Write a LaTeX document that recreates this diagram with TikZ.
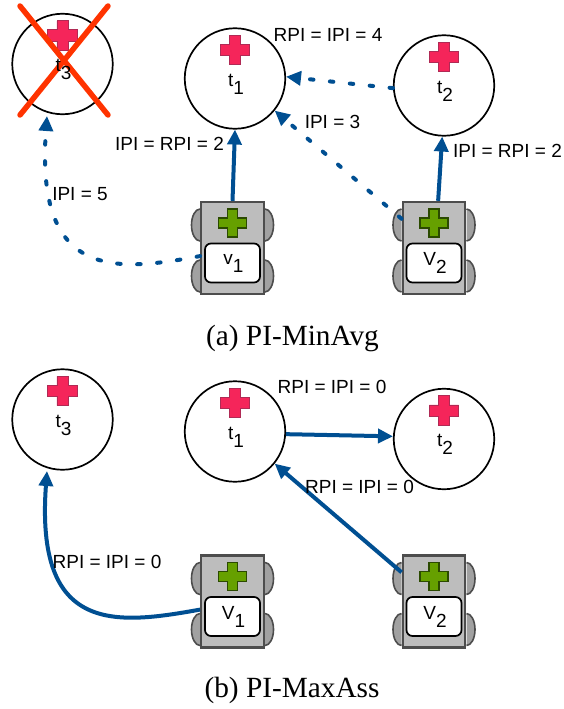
\documentclass[tikz,border=0pt]{standalone}
\usepackage{fontspec}
\setmainfont{Liberation Sans}
\newfontfamily\capfont{Liberation Serif}
\usetikzlibrary{arrows.meta}
\definecolor{linkblue}{HTML}{004F92}
\definecolor{plusred}{HTML}{F5255A}
\definecolor{plusreddark}{HTML}{B02A55}
\definecolor{plusgreen}{HTML}{66A000}
\definecolor{plusgreendark}{HTML}{2B4A00}
\definecolor{bodygrey}{HTML}{BDBDBD}
\definecolor{edgegrey}{HTML}{4D4D4D}
\definecolor{crossred}{HTML}{FF3300}
\newcommand{\sub}[2]{#1\raisebox{-8pt}{#2}}
\newcommand{\plusmark}[5]{% centre x, centre y, half size, half arm, style
  \draw[#5,shift={(#1,#2)}] (-#4,-#3) -- (#4,-#3) -- (#4,-#4) -- (#3,-#4) -- (#3,#4) -- (#4,#4)
    -- (#4,#3) -- (-#4,#3) -- (-#4,#4) -- (-#3,#4) -- (-#3,-#4) -- (-#4,-#4) -- cycle;}
\newcommand{\taskcircle}[5]{% name, x, y, subscript, drawn under the label
  \node[taskc] (#1) at (#2,#3) {};
  \plusmark{#2}{#3-28.5}{14.7}{5.6}{redplus}
  #5
  \node[lab] (#1l) at (#2+1,#3+5.5) {\sub{t}{#4}};}
\newcommand{\vehicle}[4]{% name, x, y, label
  \foreach \dy in {-23,28}{
    \draw[wheel] (#2-32.5,#3+\dy-16) arc[start angle=90,delta angle=180,x radius=8.5,y radius=-16];
    \draw[wheel] (#2+32.5,#3+\dy-16) arc[start angle=90,delta angle=-180,x radius=8.5,y radius=-16];
  }
  \node[vbody] (#1) at (#2,#3) {};
  \plusmark{#2}{#3-25}{14}{5}{greenplus}
  \node[vwin] (#1w) at (#2,#3+15) {};
  \node[lab] (#1l) at (#2+1,#3+15) {#4};}
\tikzset{
  x=1pt,y=-1pt,
  taskc/.style={circle,draw=black,line width=1.7pt,minimum size=100.5pt,inner sep=0pt,outer sep=0.8pt},
  lab/.style={inner sep=0pt,font=\fontsize{19}{21}\selectfont},
  capt/.style={inner sep=0pt,font=\capfont\fontsize{29.3}{32}\selectfont},
  redplus/.style={fill=plusred,draw=plusreddark,line width=0.8pt},
  greenplus/.style={fill=plusgreen,draw=plusgreendark,line width=1.6pt},
  wheel/.style={fill=bodygrey!85!black,draw=edgegrey,line width=1.6pt},
  vbody/.style={rectangle,fill=bodygrey,draw=edgegrey,line width=2.4pt,minimum width=62.5pt,minimum height=92pt,inner sep=0pt,outer sep=1.2pt},
  vwin/.style={rectangle,rounded corners=6pt,fill=white,draw=black,line width=1.7pt,minimum width=55pt,minimum height=39pt,inner sep=0pt},
  solidlink/.style={draw=linkblue,line width=4pt,-{Triangle[length=15pt,width=14pt]}},
  dashlink/.style={solidlink,line cap=round,dash pattern=on 3.5pt off 16.5pt},
  redx/.style={draw=crossred,line width=5.5pt,line cap=round},
}
\begin{document}
\begin{tikzpicture}
\useasboundingbox (0,0) rectangle (563,709);
% ---- (a)
\coordinate (xa) at (20,6); \coordinate (xb) at (108,115);
\coordinate (xc) at (108,6); \coordinate (xd) at (20,115);
\taskcircle{at}{62.5}{64}{3}{\draw[redx] (xa) -- (xb); \draw[redx] (xc) -- (xd);}
\taskcircle{aa}{235}{78.5}{1}{}
\taskcircle{ab}{444}{85.5}{2}{}
\vehicle{av}{232.5}{248}{\sub{v}{1}}
\vehicle{aw}{434}{248}{\sub{V}{2}}
\draw[solidlink] (av.north) -- (aa.south);
\draw[solidlink] (aw.85) -- (ab.-92);
\draw[dashlink] (ab.183) -- (aa.2);
\draw[dashlink] (aw.138) -- (aa.-39);
\draw[dashlink] (av.194) .. controls (115,272) and (35,280) .. (47,116);
\node[lab] (l1) at (328,35) {RPI = IPI = 4};
\node[lab] (l2) at (332.5,122) {IPI = 3};
\node[lab] (l3) at (507.5,151) {IPI = RPI = 2};
\node[lab] (l4) at (169.5,144) {IPI = RPI = 2};
\node[lab] (l5) at (80,194) {IPI = 5};
\node[capt] (c1) at (292.5,338) {(a) PI-MinAvg};
% ---- (b)
\taskcircle{bt}{62.5}{419.5}{3}{}
\taskcircle{ba}{235}{431.5}{1}{}
\taskcircle{bb}{444}{439}{2}{}
\vehicle{bv}{232.5}{601.5}{\sub{V}{1}}
\vehicle{bw}{434}{601.5}{\sub{V}{2}}
\draw[solidlink] (ba.-3) -- (bb.177);
\draw[solidlink] (bw.138) -- (ba.-39);
\draw[solidlink] (bv.194) .. controls (115,625) and (35,634) .. (47,471);
\node[lab] (m1) at (332,387) {RPI = IPI = 0};
\node[lab] (m2) at (359.5,487) {RPI = IPI = 0};
\node[lab] (m3) at (107,562) {RPI = IPI = 0};
\node[capt] (c2) at (292,690) {(b) PI-MaxAss};
\end{tikzpicture}
\end{document}
